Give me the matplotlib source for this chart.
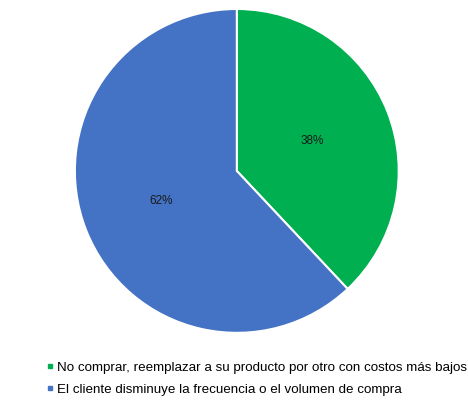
import numpy as np
import matplotlib.pyplot as plt
from matplotlib.lines import Line2D

labels = ['No comprar, reemplazar a su producto por otro con costos más bajos',
          'El cliente disminuye la frecuencia o el volumen de compra']
values = [38, 62]
colors = ['#00B050', '#4472C4']

fig = plt.figure(figsize=(4.68, 4.05), dpi=100)
ax = fig.add_axes([0.506 - 0.346, 0.578 - 0.4, 0.692, 0.8])

wedges, texts = ax.pie(values, colors=colors, startangle=90, counterclock=False,
                       wedgeprops=dict(edgecolor='white', linewidth=1.5))
for w, v in zip(wedges, values):
    ang = np.deg2rad((w.theta1 + w.theta2) / 2)
    ax.text(0.5 * np.cos(ang), 0.5 * np.sin(ang), '%d%%' % v,
            ha='center', va='center', fontsize=8.5, color='#1a1a1a',
            family='Liberation Sans')
ax.set_xlim(-1, 1)
ax.set_ylim(-1, 1)
ax.set_aspect('equal')

handles = [Line2D([], [], marker='s', linestyle='', color=c, markersize=3.5)
           for c in colors]
fig.legend(handles, labels, loc='upper left', bbox_to_anchor=(0.095, 0.108),
           frameon=False, prop={'family': 'Liberation Sans', 'size': 9.6},
           handletextpad=0.05, labelspacing=0.75, handlelength=0.9,
           borderpad=0, borderaxespad=0)

fig.savefig('out.png', dpi=100)
